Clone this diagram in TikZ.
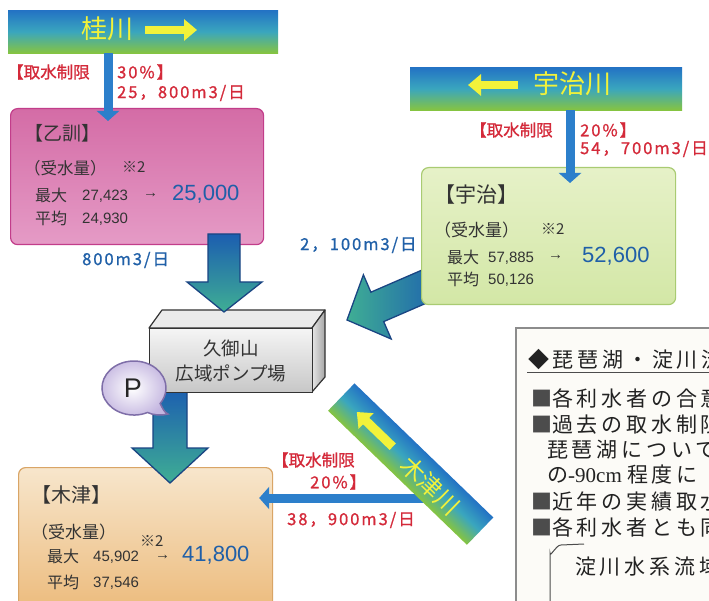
\documentclass[tikz,border=0pt]{standalone}
\usepackage{fontspec}
\setmainfont{Liberation Sans}
\newfontfamily\jp{Noto Sans CJK JP}
\newfontfamily\jpb{Noto Sans CJK JP}[FakeBold=1]
\newfontfamily\jpn{Noto Sans CJK JP}[FakeBold=1,LetterSpace=12]
\newfontfamily\jpsp{Noto Sans CJK JP}[LetterSpace=18]
\newfontfamily\num{Liberation Sans}
\newfontfamily\ser{Liberation Serif}
\usetikzlibrary{arrows.meta,calc}
\newcommand\myfs[1]{\fontsize{#1pt}{#1pt}\selectfont}
\definecolor{txt}{HTML}{333333}
\definecolor{pnltxt}{HTML}{222222}
\definecolor{lblred}{HTML}{D42A3A}
\definecolor{lblblue}{HTML}{2060A8}
\definecolor{numblue}{HTML}{1F5FA8}
\definecolor{rivyel}{HTML}{F2F23A}
\definecolor{rivblue}{HTML}{2372C4}
\definecolor{rivcyan}{HTML}{3AA6BE}
\definecolor{rivgreen}{HTML}{86C440}
\definecolor{pipec}{HTML}{2C7FCB}
\definecolor{arrblue}{HTML}{1C5EB0}
\definecolor{arrgreen}{HTML}{3FAE94}
\definecolor{arrline}{HTML}{1A4583}
\definecolor{pinkT}{HTML}{D46CA6}
\definecolor{pinkB}{HTML}{E59BC6}
\definecolor{pinkL}{HTML}{C23D8A}
\definecolor{grnT}{HTML}{E6F1C8}
\definecolor{grnB}{HTML}{D3E7A6}
\definecolor{grnL}{HTML}{A9CB72}
\definecolor{orT}{HTML}{F7E6CC}
\definecolor{orB}{HTML}{EBB673}
\definecolor{orL}{HTML}{D9A566}
\definecolor{bubF}{HTML}{C4B6E0}
\definecolor{bubL}{HTML}{7E6EA8}
\begin{document}
\begin{tikzpicture}[x=1pt,y=-1pt,
  tx/.style={inner sep=0pt, anchor=west, text=txt},
  ttl/.style={tx, font=\jp\myfs{20}},
  sub/.style={tx, font=\jp\myfs{16.5}},
  kj/.style={tx, font=\jp\myfs{16}},
  nm/.style={tx, font=\num\myfs{15}},
  big/.style={inner sep=0pt, anchor=west, text=numblue, font=\num\myfs{22}},
  redlbl/.style={inner sep=0pt, anchor=west, text=lblred, font=\jpb\myfs{16.5}},
  rednum/.style={inner sep=0pt, anchor=west, text=lblred, font=\jpn\myfs{16.5}},
  bluelbl/.style={inner sep=0pt, anchor=west, text=lblblue, font=\jpn\myfs{16.5}},
  rivtxt/.style={inner sep=0pt, text=rivyel, font=\jp\myfs{26}},
  pnl/.style={inner sep=0pt, anchor=west, text=pnltxt, font=\jpsp\myfs{21}},
  banner/.style={draw=none, inner sep=0pt, top color=rivblue, bottom color=rivgreen, middle color=rivcyan},
  yarr/.style={draw=rivyel, line width=8pt, -{Triangle[length=13pt,width=21pt]}},
  pipe/.style={draw=pipec, line width=9pt, -{Triangle[length=10pt,width=22pt]}},
  barrow/.style={draw=arrline, line width=1.3pt, top color=arrblue, bottom color=arrgreen, line join=miter},
  box/.style={draw, line width=1.2pt, rounded corners=7pt, anchor=north west, inner sep=0pt},
  pinkbox/.style={box, draw=pinkL, top color=pinkT, bottom color=pinkB},
  grnbox/.style={box, draw=grnL, top color=grnT, bottom color=grnB},
  orbox/.style={box, draw=orL, top color=orT, bottom color=orB},
  pump/.style={draw=black!80, line width=1.2pt, line join=round}
]
\useasboundingbox (0,0) rectangle (709,601);
\fill[white] (0,0) rectangle (709,601);
\clip (0,0) rectangle (709,601);

% ---------- right panel ----------
\draw[line width=2.2pt, draw=black!45, fill={rgb,255:red,252;green,251;blue,247}] (516,328) rectangle (740,640);
\node[pnl] (r0) at (528,360) {◆琵琶湖・淀川流域};
\draw[line width=0.8pt, black!70] (527,372) -- (740,372);
\node[pnl] (r1) at (531,398) {{\color{black!70}■}各利水者の合意};
\node[pnl] (r2) at (531,425) {{\color{black!70}■}過去の取水制限};
\node[pnl] (r3) at (547,450) {琵琶湖について};
\node[pnl] (r4) at (547,475) {の{\ser\myfs{21}-90cm }程度に};
\node[pnl] (r5) at (531,502) {{\color{black!70}■}近年の実績取水};
\node[pnl] (r6) at (531,527) {{\color{black!70}■}各利水者とも同};
\draw[line width=1pt, black!70] (550,620) -- (550,553) to[out=-90,in=180] (561,545) -- (584,544);
\node[pnl] (r7) at (575,567) {淀川水系流域};

% ---------- Katsura river ----------
\node[banner, minimum width=270pt, minimum height=43pt, anchor=north west] (katsura) at (8,10) {};
\node[rivtxt] (katsuraT) at (107,29) {桂川};
\coordinate (ka1) at (145,30);
\coordinate (ka2) at (197,30);
\draw[yarr] (ka1) -- (ka2);

% ---------- Uji river ----------
\node[banner, minimum width=272pt, minimum height=43pt, anchor=north west] (ujigawa) at (410,67) {};
\node[rivtxt] (ujiT) at (572,84) {宇治川};
\coordinate (ua1) at (518,85);
\coordinate (ua2) at (468,85);
\draw[yarr] (ua1) -- (ua2);

% ---------- Otokuni box ----------
\node[pinkbox, minimum width=253pt, minimum height=136pt] (otokuni) at (10,108) {};
\node[ttl, font=\jp\myfs{19}] (otT) at (24,133) {【乙訓】};
\node[sub] (otS) at (24,168) {（受水量）};
\node[kj, font=\jp\myfs{15}] (otN) at (122,167) {※2};
\node[kj] (otM) at (35,195) {最大};
\node[nm] (otMv) at (82,196) {27,423};
\node[nm] (otA) at (143,195) {→};
\node[big] (otV) at (172,194) {25,000};
\node[kj] (otH) at (35,218) {平均};
\node[nm] (otHv) at (82,219) {24,930};

% pipe Katsura -> Otokuni
\coordinate (kx) at (108,0);
\coordinate (kend) at (108,121);
\draw[pipe] (katsura.south -| kx) -- (kend);
\node[redlbl] (kl1) at (7,72) {【取水制限};
\node[rednum] (kl2) at (117,72) {30\%】};
\node[rednum] (kl3) at (117,93) {25，800m3/日};

% ---------- diagonal arrow Uji -> pump (behind Uji box) ----------
\path[barrow, top color=arrblue, bottom color=arrblue, left color=arrgreen, right color=arrblue]
  (347,320) -- (363.4,274.8) -- (370.9,292.2) -- (433.2,265.2) -- (446,294.6) -- (383.7,321.6) -- (391.2,339) -- cycle;

% ---------- Uji box ----------
\node[grnbox, minimum width=254pt, minimum height=137pt] (uji) at (421,167) {};
\node[ttl, font=\jp\myfs{21}] (ujT) at (434,195) {【宇治】};
\node[sub, font=\jp\myfs{17}] (ujS) at (434,230) {（受水量）};
\node[kj, font=\jp\myfs{15}] (ujN) at (541,229) {※2};
\node[kj] (ujM) at (447,257) {最大};
\node[nm] (ujMv) at (488,258) {57,885};
\node[nm] (ujA) at (548,257) {→};
\node[big] (ujV) at (582,256) {52,600};
\node[kj] (ujH) at (447,279) {平均};
\node[nm] (ujHv) at (488,280) {50,126};

% pipe Uji river -> Uji
\coordinate (ux) at (570,0);
\coordinate (uend) at (570,183);
\draw[pipe] (ujigawa.south -| ux) -- (uend);
\node[redlbl] (ul1) at (470,130) {【取水制限};
\node[rednum] (ul2) at (580,130) {20\%】};
\node[rednum] (ul3) at (580,149) {54，700m3/日};

\node[bluelbl] (b1) at (82,260) {800m3/日};
\node[bluelbl] (b2) at (300,245) {2，100m3/日};

% ---------- Kizu box ----------
\node[orbox, minimum width=254pt, minimum height=160pt] (kizu) at (18,467) {};
\node[ttl] (kzT) at (31,495) {【木津】};
\node[sub, font=\jp\myfs{17}] (kzS) at (31,532) {（受水量）};
\node[kj, font=\jp\myfs{15}] (kzN) at (140,541) {※2};
\node[kj] (kzM) at (47,556) {最大};
\node[nm] (kzMv) at (93,557) {45,902};
\node[nm] (kzA) at (155,557) {→};
\node[big] (kzV) at (182,555) {41,800};
\node[kj] (kzH) at (47,582) {平均};
\node[nm] (kzHv) at (93,583) {37,546};

% horizontal pipe Kizu river -> Kizu
\coordinate (kzs) at (425,498);
\draw[pipe] (kzs) -- ($(kizu.east |- kzs)+(-14,0)$);
\node[redlbl] (zl1) at (272,460) {【取水制限};
\node[rednum] (zl2) at (310,482) {20\%】};
\node[rednum] (zl3) at (287,520) {38，900m3/日};

% ---------- Kizu river banner ----------
\begin{scope}[transform canvas={shift={(410.7,464.1)},rotate=-44}]
  \node[banner, minimum width=193pt, minimum height=38pt] (kizugawa) at (0,0) {};
  \node[rivtxt, font=\jp\myfs{24}] (kizuT) at (29,2) {木津川};
  \draw[yarr, line width=9pt] (-25,0) -- (-75,0);
\end{scope}

% ---------- arrow pump -> Kizu ----------
\path[barrow] (153,388) -- (187,388) -- (187,448) -- (208,448) -- (170,483) -- (132,448) -- (153,448) -- cycle;

% ---------- pump station ----------
\path[pump, fill=black!8] (149,328) -- (162,310) -- (325,310) -- (312,328) -- cycle;
\path[pump, left color=black!10, right color=black!35] (312,328) -- (325,310) -- (325,377) -- (312,392) -- cycle;
\node[draw=black!80, line width=1.2pt, anchor=north west, inner sep=0pt, minimum width=163pt, minimum height=64pt, top color=black!4, bottom color=black!22] (pumpst) at (149,328) {};
\node[inner sep=0pt, text=txt, font=\jp\myfs{18.5}] (pumpT1) at (231,348) {久御山};
\node[inner sep=0pt, text=txt, font=\jp\myfs{18.5}] (pumpT2) at (231,373) {広域ポンプ場};

% ---------- arrow Otokuni -> pump ----------
\path[barrow] (208,234) -- (240,234) -- (240,282) -- (262,282) -- (224,312) -- (187,282) -- (208,282) -- cycle;

% ---------- P bubble ----------
\path[draw=bubL, line width=1.5pt, inner color=white, outer color=bubF]
  (147.5,412.5) arc[start angle=65, end angle=395, x radius=32, y radius=27]
  .. controls (163,409) and (164,412) .. (168,414)
  .. controls (161,416) and (153,415) .. (147.5,412.5) -- cycle;
\node[inner sep=0pt, text=black!85, font=\num\myfs{27}] (pP) at (133,388) {P};
\end{tikzpicture}
\end{document}
